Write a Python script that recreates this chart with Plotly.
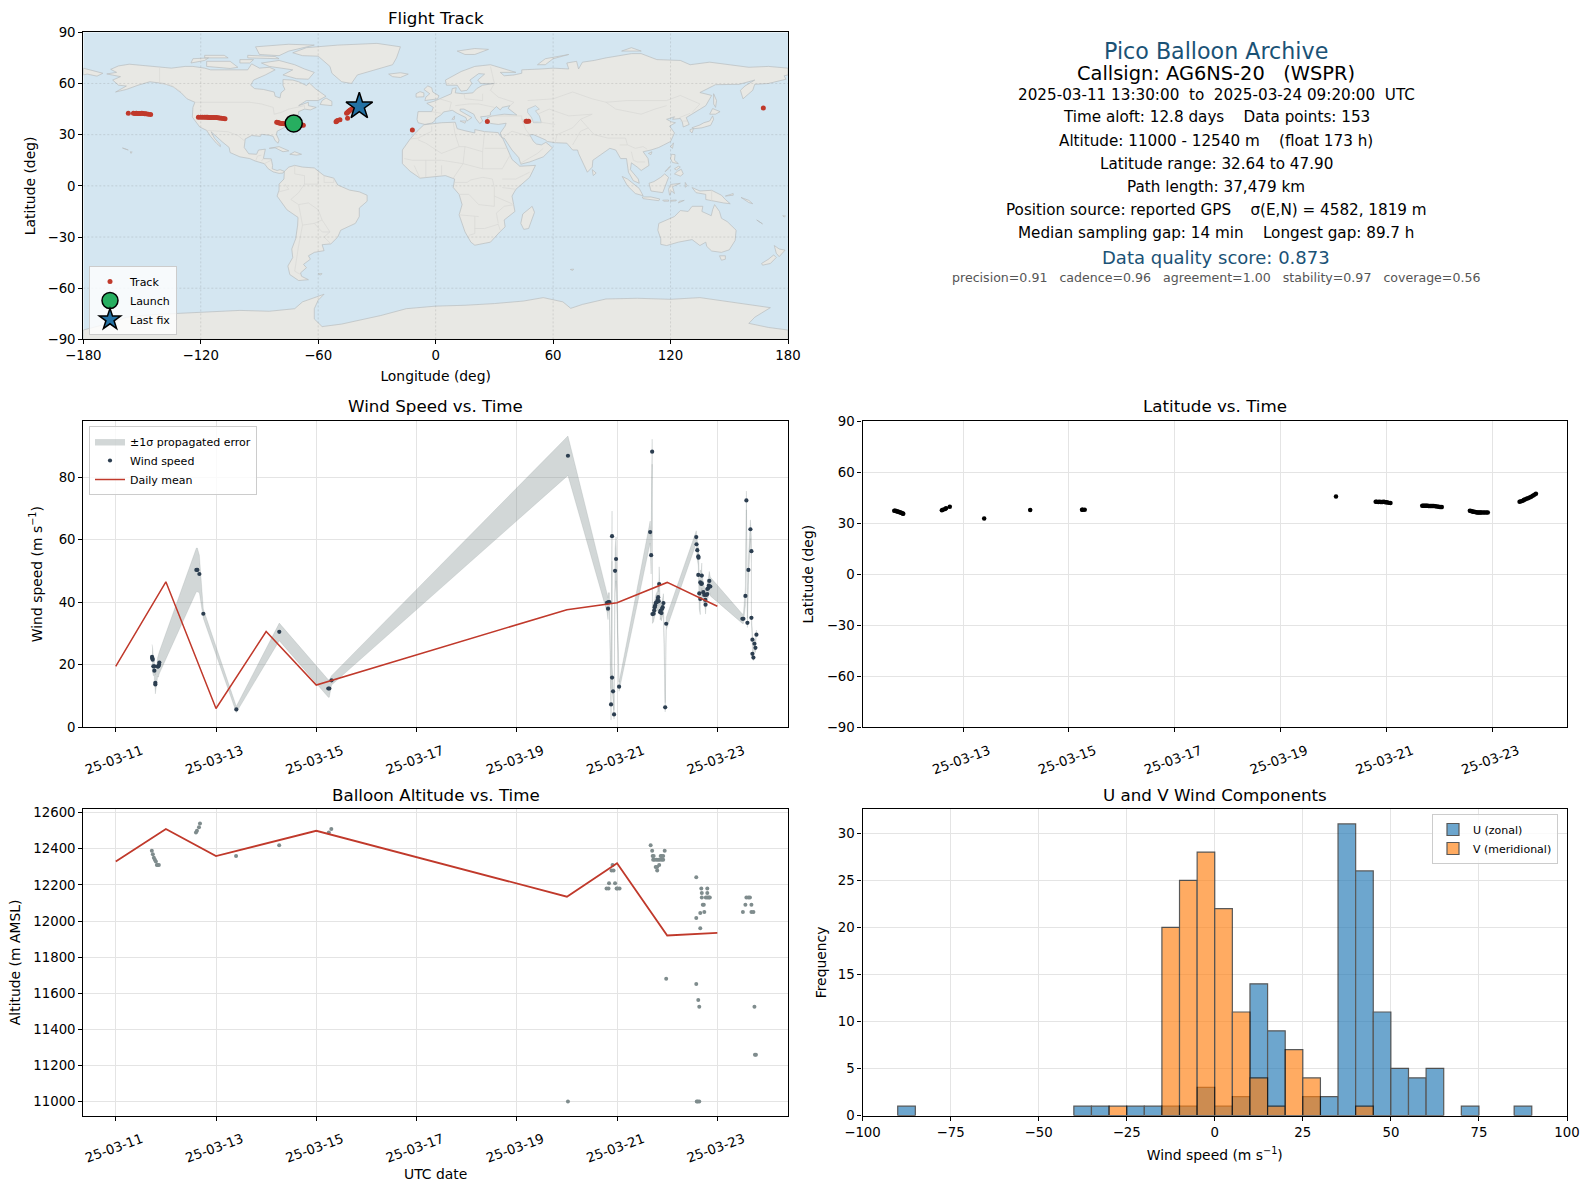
import pandas as pd
import plotly.graph_objects as go

FIG_W, FIG_H = 1590, 1189
FONT = "DejaVu Sans"
RED = "#c0392b"
NAVY = "#2c3e50"
GREY = "#7f8c8d"
BLUE_TXT = "#1a5276"
GRID = "#e4e4e4"
OCEAN = "#d4e6f1"
LAND = "#e8e8e4"
COAST = "#b9bdbf"
BORDER = "#d9d9d5"

start = pd.Timestamp("2025-03-11")

# ---- map outlines (lon, lat)
north_america = [(-168,65.6),(-163,66.5),(-166,68.3),(-162,70.3),(-156.5,71.3),(-150,70.5),(-141,69.7),(-135,69),(-128,70),(-124,70),(-118,69),(-115,68),(-108,68),(-102,68),(-96,68),(-94,71.5),(-90,69),(-85,69.5),(-82,68),(-87,65),(-93,62),(-94.5,59),(-92.5,57),(-88,56.5),(-82.5,55),(-82,52.5),(-79.5,51.5),(-79,54.5),(-77,56.5),(-78,59),(-78,62.3),(-73,62),(-70,61),(-66,58.8),(-64.5,60.3),(-61.5,57),(-56,52.5),(-60,50),(-66,50),(-70,47),(-65,49),(-65,47),(-61,46),(-64,44.5),(-67,45),(-70,43.5),(-70,41.7),(-74,40.6),(-75.5,38),(-76,35),(-78,33.8),(-81,32),(-81.3,30),(-80,26.8),(-80.5,25),(-82,26.5),(-83,29),(-85,29.7),(-89,30.2),(-89.5,29),(-94,29.5),(-97.3,27.5),(-97.8,22.5),(-95.5,18.8),(-91.5,18.5),(-90.5,21),(-87,21.5),(-88,16),(-84,15.8),(-83.3,12),(-83.5,10),(-81,9),(-79.5,9.5),(-77.3,8.5),(-78,7.5),(-80,7.3),(-83,8.2),(-85.5,10),(-87.5,13),(-92,14.5),(-95,16),(-100,17),(-105,19.5),(-105.5,22.5),(-109,25.8),(-112.5,29.5),(-114.7,31.7),(-113,28),(-110,24),(-110,23),(-112,25),(-115,29),(-117,32.5),(-120.5,34.5),(-122.5,37.5),(-124.3,40.3),(-124,46),(-123,49),(-127,51),(-130,54.5),(-134,58),(-139,60),(-146,61),(-152,59),(-158,56.5),(-163.5,55),(-158,58.5),(-162,59),(-165,62),(-161,64)]
baffin = [(-80,73.5),(-72,71),(-67,68.5),(-62,66.5),(-65,62.5),(-71,62.8),(-78,65),(-73,68),(-85,70),(-89,72)]
victoria_isl = [(-117,70),(-105,68.8),(-101,69.5),(-105,73),(-117,73)]
ellesmere = [(-90,77),(-80,76.3),(-75,79),(-62,82.5),(-75,83),(-92,81.5)]
banks_isl = [(-125,72),(-118,73.5),(-116,75),(-124,74.5)]
devon_isl = [(-96,75),(-80,74.5),(-82,75.8),(-96,76.5)]
melville_isl = [(-118,75),(-106,75),(-108,76.5),(-118,76.5)]
pow_isl = [(-100,72),(-95,72),(-93,74),(-100,74)]
newfoundland = [(-59,47.7),(-53,47),(-53,49.5),(-56,51.5),(-58,50)]
greenland = [(-73,78),(-66,81),(-50,82.5),(-30,83.5),(-18,81.5),(-20,75),(-22,71),(-30,68.5),(-40,65),(-43,60),(-48,61),(-53,66),(-54,70),(-60,76),(-68,76.3)]
iceland = [(-24,65.5),(-18,66.3),(-14,65.5),(-18,63.5),(-22,64)]
cuba = [(-85,22),(-80,23),(-75,20.5),(-78,20),(-82,22.3)]
hispaniola = [(-74.5,18.5),(-72,20),(-68.5,18.5),(-71,18)]
hawaii = [(-156,20),(-155,19.8),(-155.7,19)]
kauai = [(-160,22.2),(-158,21.6),(-157,21),(-158,21.2)]
south_america = [(-77.3,8.5),(-75,11),(-72,12),(-68,11),(-62,10.5),(-57,6),(-52,4.5),(-50,0.5),(-44,-2.5),(-39,-3.5),(-35,-5.5),(-35,-9),(-39,-13),(-39,-18),(-41,-22),(-45,-24),(-48.5,-26),(-50,-30),(-53.5,-34),(-58,-34.5),(-57,-38),(-62,-39),(-65,-41),(-64,-43),(-67.5,-46),(-66,-48),(-69,-51),(-68.5,-53),(-65,-55),(-70,-55.5),(-74.5,-52),(-75.5,-47),(-73,-42),(-73.5,-37),(-71.5,-31),(-70.5,-23),(-70.3,-18.5),(-76,-14),(-81,-6),(-80,-2.5),(-80,1),(-77.5,4),(-77.5,7.5)]
falklands = [(-60,-51.5),(-58,-51.5),(-59,-52.3)]
africa = [(-6,35.8),(3,37),(10,37.3),(11,33.5),(15,32.3),(20,31),(20,33),(25,31.8),(32,31.2),(32.5,30),(34.3,27.8),(37,21),(39,15.5),(43,11.5),(51,12),(48,5),(41,-2),(39,-6),(40.5,-15),(35,-20),(35.5,-24),(32.8,-27),(28,-33),(20,-34.8),(18,-33),(15,-27),(12,-17),(13.5,-11),(12,-5),(9,-1),(9.7,4),(5,6),(-4,5),(-8,4.5),(-13,8.5),(-17,13),(-17,21),(-13,27.5),(-9.5,32)]
eurasia = [(-9,37),(-9.5,39),(-9,43.5),(-2,43.5),(-1.2,46),(-4.5,48.4),(-1,49.5),(2,51),(4,52),(8,54),(8.5,57),(10.5,57.5),(10,54.5),(14,54),(19,54.5),(21,57),(24,59),(30,60),(23,60),(21.5,62),(25,65.5),(22,65.8),(17.5,62),(18.5,60),(16,56),(13,55.5),(11,59),(5.5,59),(5,62),(13,67),(20,70),(28,71),(41,66.5),(33,66.5),(35,64.5),(40,65),(44,66),(44,68),(54,68.5),(60,69),(68,68.5),(67,72),(72,73),(73,68.5),(75,72.5),(81,73.5),(87,75),(100,77.5),(105,77.5),(113,74),(125,73.5),(130,71),(140,72.5),(150,71),(160,69.5),(170,70),(180,69),(180,65),(178,64.5),(179,62.5),(170,60),(163,59.5),(162,56),(157,51),(155.7,56),(158,58.5),(163,62),(155,59.5),(143,59.3),(135,54.7),(141,53),(138,47),(132,43),(128,40),(129.5,36),(126.5,34.5),(126,37.5),(125,39.5),(121,39),(122,40.5),(118,39),(120.5,37.5),(122.5,37),(119.5,35),(122,31),(120,26),(114,22.5),(110,21),(106,20),(108.5,16),(109,12),(105,9),(103,11),(100,13.5),(99.5,9.5),(103.5,4),(104,1.5),(101,3),(98.5,8),(97.5,16),(94.5,16),(92,21),(89,22),(86.5,20),(80.3,15),(80,11),(77.5,8),(73,19),(72.5,21),(70,21),(67,25),(61,25.3),(57,26),(56,27),(50,30),(48,30),(50,26),(51.5,24.5),(54,24),(56.3,25.5),(58.5,23.5),(59.7,22.3),(55,17),(48,14),(43.5,12.7),(42.5,16.5),(39,21),(35,28),(34,28),(33,31),(35.5,35),(36,36.7),(32,36),(28,36.6),(26.5,38.5),(26.5,40),(29,41),(35,42),(41.5,41.5),(39,44),(37,45.5),(38,47),(34,46),(33,44.5),(31,46.5),(28,43),(28,41.5),(26,40.8),(23,40.5),(24,38),(22.5,36.5),(20.5,39.5),(19.5,42),(14.5,45),(12.5,45),(12.5,44),(16,41.5),(18.5,40),(16,38),(15.5,40),(11,42.5),(8.5,44.3),(4,43.3),(3,41.8),(0,39.5),(-0.5,38),(-2,36.8),(-5.5,36)]
chukotka_west = [(-180,69),(-175,67.5),(-170,66),(-173,64.3),(-178,65.5),(-180,65)]
britain = [(-5.5,50),(1,51),(1.7,52.8),(-1.5,55),(-2,57.5),(-4,58.6),(-6,56.5),(-3,54),(-5,52)]
ireland = [(-10,52),(-6,52.2),(-6,54.5),(-8,55.2),(-10,54)]
svalbard = [(11,79),(20,80.5),(27,80),(20,77),(15,77)]
novaya_zemlya = [(52,71),(56,74.5),(68,77),(60,74.5),(56,71)]
severnaya = [(95,79),(105,79),(100,81)]
sakhalin = [(142,54),(143.5,50),(143,46),(142,48)]
honshu = [(130.9,34),(135,35.7),(137,37),(140,38),(141.5,41),(142,39),(140.5,35.5),(136,34),(132,33.5)]
kyushu = [(130,33),(131.7,33.5),(131,31),(130,32)]
hokkaido = [(140,42),(141.5,45.3),(145.3,43.5),(143,42)]
taiwan = [(120,23),(121.5,25.2),(121,22)]
hainan = [(108.7,19),(110.5,20),(110,18.3)]
sri_lanka = [(80,9.5),(82,7.5),(80.5,6)]
luzon = [(120,16),(120.5,18.5),(122.3,18.3),(122,15),(124,13),(121,13.7)]
mindanao = [(122,7),(123.5,8.5),(125.5,9.7),(126.5,7),(125,5.7)]
visayas = [(122,10),(124,11.5),(125,11),(123,9.3)]
palawan = [(117.2,8.3),(119.5,11.3),(119.3,10.3)]
borneo = [(109,1.5),(111.5,2.5),(115,5),(117,7),(119,5),(117.8,1),(116,-4),(110,-3)]
sumatra = [(95.3,5.5),(98,4),(104,-1.5),(106,-5.8),(102,-4.5),(98,0)]
java = [(105.5,-6.5),(110,-6.5),(114.5,-7.7),(114,-8.7),(106,-7.5)]
sulawesi = [(119.5,-5.5),(119,-2),(120,0.8),(125,1.5),(121,-0.5),(122,-4.5),(120.5,-3)]
halmahera = [(127.5,2),(128.5,0),(127.5,-0.8)]
new_guinea = [(131,-1),(135,-3),(141,-2.6),(146,-5.5),(148,-8),(150.5,-10.5),(147,-10),(143,-9),(138,-8),(138,-5),(133,-4)]
new_britain = [(148,-6),(152,-4.5),(152,-5.5)]
sunda_a = [(116,-8.4),(119,-8.3),(119,-9),(116.5,-9)]
sunda_b = [(120,-8.5),(123,-8.3),(122.8,-8.8),(120,-9)]
timor = [(124,-10),(127,-8.5),(124.5,-9)]
australia = [(114,-22),(113.5,-26),(115,-31),(115,-34.3),(118,-35),(124,-33),(131,-31.5),(135,-35),(138,-33),(138.5,-35.5),(141,-38.2),(146,-39),(150,-37.5),(153,-32),(153.5,-26),(149,-21),(146,-19),(145,-15),(142.5,-11),(141.5,-14),(140.8,-17.5),(136,-15),(136.5,-12),(131,-12),(129,-15),(125,-14.5),(122,-18),(117,-20.5)]
tasmania = [(145,-41),(148,-41),(148,-43),(146,-43.6)]
nz_north = [(173,-35),(175.5,-37),(178.5,-37.7),(175.5,-41.5),(174,-39.5)]
nz_south = [(172.7,-40.5),(174,-42),(171,-45.5),(167,-46.5),(166.5,-45.5),(170,-43)]
madagascar = [(49.3,-12),(50.5,-15.5),(47.5,-25),(45,-25.5),(43.5,-22),(44.5,-16.5)]
kerguelen = [(68.8,-49),(70.5,-48.8),(70,-49.6)]
new_caledonia = [(164,-20),(167,-22.3),(166,-21.8)]
fiji = [(177.3,-17.5),(178.7,-17.7),(178,-18.3)]
solomons = [(156,-6.8),(160,-8.5),(162,-10.5),(160,-9.8)]
sicily = [(12.5,38),(15.5,38),(15,36.7)]
sardinia = [(8.3,39),(9.7,41),(9.5,39)]
antarctica = [(-180,-90),(-180,-84.5),(-165,-80),(-158,-77),(-145,-75.5),(-120,-74),(-100,-73),(-85,-73.5),(-72,-72),(-68,-68),(-57,-63.5),(-60,-67),(-62,-72),(-62,-78),(-58,-82.5),(-48,-81),(-36,-78),(-28,-76),(-15,-72),(0,-70.5),(15,-70),(30,-69),(45,-67.5),(55,-65.5),(65,-68),(69,-71.8),(75,-69.5),(87,-66.3),(103,-65.9),(120,-66.5),(135,-65.5),(150,-68),(165,-70.5),(171,-71.4),(163,-77),(160,-80.6),(170,-83),(180,-84.5),(180,-90)]
land_polys = [north_america, baffin, victoria_isl, ellesmere, banks_isl, devon_isl, melville_isl, pow_isl, newfoundland, greenland, iceland, cuba, hispaniola, hawaii, kauai, south_america, falklands, africa, eurasia, chukotka_west, britain, ireland, svalbard, novaya_zemlya, severnaya, sakhalin, honshu, kyushu, hokkaido, taiwan, hainan, sri_lanka, luzon, mindanao, visayas, palawan, borneo, sumatra, java, sulawesi, halmahera, new_guinea, new_britain, sunda_a, sunda_b, timor, australia, tasmania, nz_north, nz_south, madagascar, kerguelen, new_caledonia, fiji, solomons, sicily, sardinia, antarctica]

caspian = [(47,45),(51,47),(53,45),(51,44),(53,41),(54,37),(50,37),(49,40),(47,43)]

borders = [
    [(-141,69.7),(-141,60),(-135,59),(-130,55)],
    [(-123,49),(-95,49),(-89,48),(-83,46),(-82.5,42),(-79,43),(-75,45),(-70,46),(-67,47),(-67,45)],
    [(-117,32.5),(-108,31.5),(-106,31.7),(-101,29.5),(-97.3,26)],
    [(-92,14.5),(-91,17.5),(-89,18)], [(-88,16),(-89,14.5)], [(-87.5,13),(-84,15)],
    [(-72,12),(-72,7),(-67,6),(-67,1)],
    [(-60,8),(-60,1),(-67,1),(-70,-4),(-74,-8),(-70,-11),(-65,-10),(-60,-14),(-58,-20),(-55,-25),(-54,-27),(-57,-30),(-53.5,-34)],
    [(-70,-11),(-69,-17),(-68,-23),(-70,-35),(-72,-50),(-69,-52)],
    [(-68,-23),(-62,-22),(-58,-20)], [(-80,-3.5),(-75,-2),(-77,1)], [(-57,6),(-57,2),(-52,2),(-52,4.5)], [(-62,-22),(-58,-27),(-54,-27)],
    [(-2,35),(-2,32),(-9,28),(-13,27.5)], [(-9,27),(-5,25),(3,19),(12,23),(10,30),(9,37)],
    [(12,23),(15,23),(24,20),(25,31.8)], [(25,22),(36,22)], [(24,20),(24,10),(34,10),(36,14),(38,18)],
    [(-16,16),(-12,15),(-5,15),(3,15),(14,13),(15,23)], [(14,13),(24,10)],
    [(12,-5),(17,-5),(22,-11),(30,-12),(30,-1),(29,4),(24,5),(18,3.5),(16,2),(9.7,2)],
    [(3,6.5),(3,12)], [(14,13),(9,4.5)], [(34,-1),(41,-2)], [(34,4),(41,4),(48,8)], [(30,-6),(39,-10.5)],
    [(12,-17),(22,-18)], [(20,-18),(20,-28),(17,-29)], [(20,-25),(25,-25),(32,-22.5),(33,-26)], [(40,-11),(35,-12),(31,-16),(32,-22)],
    [(-5,5),(-5,15)], [(-8,4.5),(-11,12)],
    [(28,70),(30,60),(28,56),(32,52),(40,49),(38,47)],
    [(47,50),(60,51),(70,55),(80,51),(87,49),(98,50),(108,50),(118,50),(125,53),(135,48),(131,43)],
    [(87,49),(92,45),(105,42),(112,45),(118,47)], [(52,42),(58,45),(68,41),(80,42),(74,39)],
    [(74,39),(78,34),(81,30),(88,28),(97,28),(98,24),(102,22),(106,23),(108,21.5)],
    [(61,25),(62,30),(70,34),(74,39)], [(70,24),(74,32),(78,34)],
    [(44,39),(46,33),(48,30)], [(26,41),(44,41),(44,39),(61,36)],
    [(35,29),(39,32),(48,29)], [(43,13),(52,19),(55,22)],
    [(2,51),(8,49),(7,44)], [(-2,43.5),(3,42.5)], [(14.5,54),(15,51),(24,50),(24,54)], [(10,47),(17,48),(22,48),(30,46)],
    [(125,38),(128.5,38)], [(124.5,40),(130,42.5)], [(100,20),(101,15),(103,14),(107,14)], [(94,24),(98,24)], [(141,-2.6),(141,-9)],
]

map_lon_ticks = [-180, -120, -60, 0, 60, 120, 180]
map_lat_ticks = [-90, -60, -30, 0, 30, 60, 90]

# ---- flight track (days after 03-11 00:00)
track_days = [0.70,0.72,0.74,0.76,0.78,0.80,0.82,0.84,0.86,0.87, 1.60,1.62,1.66,1.68,1.75, 2.40, 3.27, 4.25,4.26,4.30, 9.05,
              9.80,9.82,9.85,9.87,9.89,9.91,9.93,9.95,9.97,9.99,10.01,10.04,10.08,
              10.68,10.70,10.72,10.74,10.76,10.78,10.80,10.82,10.84,10.86,10.88,10.90,10.93,10.96,10.99,11.02,11.05,
              11.58,11.60,11.62,11.64,11.66,11.68,11.70,11.72,11.74,11.76,11.78,11.80,11.83,11.86,11.89,11.92,
              12.52,12.55,12.58,12.60,12.62,12.65,12.68,12.71,12.74,12.77,12.80,12.83]
track_lat = [37.3,37.2,37.0,36.8,36.7,36.4,36.2,36.0,35.7,35.5, 37.5,37.9,38.3,38.8,39.6, 32.7, 37.7, 37.8,37.8,37.8, 45.7,
             42.5,42.5,42.4,42.5,42.4,42.4,42.4,42.5,42.4,42.3,42.2,42.0,41.8,
             40.2,40.2,40.2,40.2,40.2,40.2,40.1,40.1,40.1,40.1,40.0,40.0,39.9,39.8,39.6,39.5,39.4,
             37.3,37.1,36.9,36.7,36.6,36.5,36.4,36.3,36.3,36.2,36.2,36.2,36.2,36.2,36.2,36.2,
             42.5,42.9,43.2,43.6,43.9,44.3,44.6,45.0,45.5,46.0,46.6,47.2]
track_lon = [-72.5,-72,-71.5,-71,-70.5,-70,-69.5,-69,-68.3,-67.6, -50.9,-50.6,-50.2,-48.9,-45, -11.9, 26.4, 46.2,46.6,47.5, 167.4,
             -157,-154.4,-153.6,-152.9,-152.2,-151.5,-150.8,-150.1,-149.4,-148.6,-147.9,-146.8,-145.6,
             -121.2,-120,-119,-118,-117.2,-116.5,-115.8,-115,-114.3,-113.5,-112.8,-112,-111.2,-110.4,-109.5,-108.5,-107.6,
             -81.2,-80.5,-80,-79.3,-78.7,-78,-77.3,-76.6,-76,-75.3,-74.5,-74,-73.2,-72.4,-71.2,-70,
             -45.5,-45.2,-44.9,-44.6,-44.2,-43.8,-43.3,-42.8,-42.2,-41.5,-40.6,-39.6]
launch_lon, launch_lat = [-72.5], [36.6]
last_lon, last_lat = [-39.0], [46.6]

# ---- wind speed
wind_days = [0.724,0.73,0.737,0.75,0.77,0.77,0.79,0.79,0.837,0.85,0.864,0.87,1.608,1.628,1.668,1.747,2.405,3.262,4.24,4.26,4.305,
             9.02,9.8,9.82,9.827,9.847,9.88,9.9,9.9,9.92,9.94,9.96,9.98,10.04,
             10.66,10.68,10.7,10.706,10.73,10.74,10.75,10.76,10.77,10.79,10.81,10.82,10.83,10.84,10.86,10.87,10.885,10.9,10.91,10.925,10.96,10.98,
             11.58,11.585,11.6,11.62,11.62,11.625,11.64,11.66,11.66,11.68,11.69,11.69,11.72,11.74,11.76,11.765,11.78,11.8,11.8,11.82,11.83,11.84,11.86,
             12.5,12.52,12.56,12.58,12.6,12.62,12.66,12.68,12.68,12.7,12.7,12.72,12.74,12.76,12.78]
wind_speed = [22.5,22.0,21.6,19.5,19.5,18.1,14.2,13.7,19.4,19.5,20.0,20.7,50.3,50.3,49.0,36.3,5.7,30.5,12.4,12.4,15.0,
              86.8,39.8,37.9,40.0,40.0,7.3,61.1,15.9,11.5,4.1,50.0,53.8,13.0,
              62.4,55.0,88.1,36.2,36.3,37.3,38.4,38.9,39.7,40.0,40.7,41.6,40.3,45.8,36.8,37.3,36.5,37.9,38.4,39.7,6.4,33.1,
              60.8,58.5,56.6,54.6,48.7,54.2,42.8,41.0,46.3,45.8,48.5,46.0,43.2,42.3,40.7,39.2,42.3,42.6,44.2,44.5,45.3,46.8,45.0,
              34.7,34.7,42.0,72.5,33.4,50.3,63.3,56.3,35.0,28.0,23.5,22.3,26.7,25.4,29.6]
wind_sigma = [4.0,4.0,3.5,3.0,3.0,3.0,3.0,3.0,3.0,3.5,3.5,3.5,7.0,7.0,6.0,1.5,1.0,2.8,2.8,2.8,1.5,
              6.3,3.0,3.5,3.0,3.0,5.0,8.0,3.5,3.0,1.5,7.0,7.0,1.5,
              3.5,6.0,4.0,3.0,2.5,2.5,2.5,2.5,2.5,3.0,3.0,5.0,3.0,5.5,2.5,2.5,2.5,2.5,3.0,3.0,1.5,2.0,
              2.0,2.0,3.0,3.0,5.0,3.0,5.0,5.0,4.0,4.0,4.0,4.0,3.0,3.0,3.0,3.0,2.5,2.5,3.0,3.0,3.0,3.0,3.0,
              1.5,1.5,3.0,3.0,1.5,4.0,3.0,4.0,1.5,2.0,1.5,1.0,1.5,1.5,1.5]
mean_days = [0, 1, 2, 3, 4, 9, 10, 11, 12]
wind_mean = [19.5, 46.5, 6.0, 30.6, 13.5, 37.6, 39.8, 46.3, 38.7]
wind_ticks = [0, 20, 40, 60, 80]

# ---- altitude
alt_days = [0.72,0.74,0.76,0.78,0.80,0.82,0.84,0.86, 1.60,1.62,1.66,1.68, 2.40, 3.26, 4.25,4.30, 9.02,
            9.79,9.83,9.84,9.89,9.93,9.91,9.96,9.99,10.01,10.05,
            10.67,10.70,10.71,10.73,10.72,10.75,10.79,10.82,10.85,10.89,10.92,10.87,10.89,10.92,10.95,10.77,10.80,10.84,10.80,10.98,
            11.58,11.58,11.58,11.62,11.64,11.59,11.61,11.64,11.68,11.80,11.69,11.80,11.69,11.77,11.80,11.83,11.85,11.71,11.73,11.66,11.74,11.66,
            12.58,12.62,12.65,12.56,12.68,12.51,12.68,12.72,12.74,12.77,12.75]
alt_m = [12390,12370,12350,12340,12330,12310,12310,12310, 12490,12500,12520,12540, 12360, 12420, 12490,12510, 11000,
         12180,12180,12210,12280,12280,12310,12210,12180,12180,12180,
         12420,12390,12360,12360,12340,12340,12340,12340,12340,12340,12340,12360,12360,12360,12390,12300,12300,12310,12280,11680,
         12243,12017,11652,11563,11525,11000,11000,11000,12180,12180,12155,12155,12130,12130,12130,12130,12130,12090,12090,12045,12050,11960,
         12130,12130,12130,12090,12090,12050,12050,12050,11525,11260,11260]
alt_mean = [12330, 12510, 12360, 12430, 12500, 12135, 12320, 11920, 11935]
alt_ticks = [11000, 11200, 11400, 11600, 11800, 12000, 12200, 12400, 12600]

# ---- wind components histogram (5 m/s bins, left edges)
bin_lefts = [-90,-40,-35,-30,-25,-20,-15,-10,-5,0,5,10,15,20,25,30,35,40,45,50,55,60,70,85]
u_counts = [1,1,1,0,1,1,1,1,3,1,2,14,9,0,2,2,31,26,11,5,4,5,1,1]
v_counts = [0,0,0,1,0,0,20,25,28,22,11,4,1,7,4,0,0,1,0,0,0,0,0,0]
hist_x_ticks = [-100,-75,-50,-25,0,25,50,75,100]
hist_y_ticks = [0,5,10,15,20,25,30]

# ---- info panel text
info_lines = [
    ("Pico Balloon Archive", 51, 22.2, BLUE_TXT),
    ("Callsign: AG6NS-20   (WSPR)", 73.5, 19.4, "black"),
    ("2025-03-11 13:30:00  to  2025-03-24 09:20:00  UTC", 95, 15.2, "black"),
    ("Time aloft: 12.8 days    Data points: 153", 117.5, 15.2, "black"),
    ("Altitude: 11000 - 12540 m    (float 173 h)", 141, 15.2, "black"),
    ("Latitude range: 32.64 to 47.90", 164, 15.2, "black"),
    ("Path length: 37,479 km", 187, 15.2, "black"),
    ("Position source: reported GPS    σ(E,N) = 4582, 1819 m", 210, 15.2, "black"),
    ("Median sampling gap: 14 min    Longest gap: 89.7 h", 233, 15.2, "black"),
    ("Data quality score: 0.873", 257, 18, BLUE_TXT),
    ("precision=0.91   cadence=0.96   agreement=1.00   stability=0.97   coverage=0.56", 278, 12.6, "#555555"),
]


def to_dates(days):
    return [start + pd.Timedelta(days=d) for d in days]


def closed(polys):
    xs, ys = [], []
    for poly in polys:
        xs += [p[0] for p in poly] + [poly[0][0], None]
        ys += [p[1] for p in poly] + [poly[0][1], None]
    return xs, ys


def opened(lines):
    xs, ys = [], []
    for line in lines:
        xs += [p[0] for p in line] + [None]
        ys += [p[1] for p in line] + [None]
    return xs, ys


def dom_x(a, b):
    return [a / FIG_W, b / FIG_W]


def dom_y(top, bottom):
    return [1 - bottom / FIG_H, 1 - top / FIG_H]


fig = go.Figure()

# map
fig.add_trace(go.Scatter(x=[-180, 180, 180, -180, -180], y=[-90, -90, 90, 90, -90], mode="lines", fill="toself",
                         fillcolor=OCEAN, line=dict(width=0), showlegend=False, hoverinfo="skip"))
land_x, land_y = closed(land_polys)
fig.add_trace(go.Scatter(x=land_x, y=land_y, mode="lines", fill="toself", fillcolor=LAND,
                         line=dict(color=COAST, width=0.7), showlegend=False, hoverinfo="skip"))
lake_x, lake_y = closed([caspian])
fig.add_trace(go.Scatter(x=lake_x, y=lake_y, mode="lines", fill="toself", fillcolor=OCEAN,
                         line=dict(color=COAST, width=0.6), showlegend=False, hoverinfo="skip"))
border_x, border_y = opened(borders)
fig.add_trace(go.Scatter(x=border_x, y=border_y, mode="lines", line=dict(color=BORDER, width=0.7),
                         showlegend=False, hoverinfo="skip"))
grid_lines = [[(v, -90), (v, 90)] for v in map_lon_ticks[1:-1]] + [[(-180, v), (180, v)] for v in map_lat_ticks[1:-1]]
grid_x, grid_y = opened(grid_lines)
fig.add_trace(go.Scatter(x=grid_x, y=grid_y, mode="lines", line=dict(color="rgba(110,110,110,0.28)", width=0.7, dash="2px,2px"),
                         showlegend=False, hoverinfo="skip"))
fig.add_trace(go.Scatter(x=track_lon, y=track_lat, mode="markers", name="Track", legend="legend",
                         marker=dict(color=RED, size=5)))
fig.add_trace(go.Scatter(x=launch_lon, y=launch_lat, mode="markers", name="Launch", legend="legend",
                         marker=dict(color="#27ae60", size=17, line=dict(color="black", width=1.5))))
fig.add_trace(go.Scatter(x=last_lon, y=last_lat, mode="markers", name="Last fix", legend="legend",
                         marker=dict(color="#2471a3", size=20, symbol="star", line=dict(color="black", width=1.5))))

# wind speed
wind_t = to_dates(wind_days)
upper = [s + e for s, e in zip(wind_speed, wind_sigma)]
lower = [s - e for s, e in zip(wind_speed, wind_sigma)]
fig.add_trace(go.Scatter(x=wind_t + wind_t[::-1], y=upper + lower[::-1], mode="lines", fill="toself",
                         fillcolor="rgba(127,140,141,0.35)", line=dict(color="rgba(127,140,141,0.35)", width=0.5),
                         name="±1σ propagated error", xaxis="x2", yaxis="y2", legend="legend2"))
fig.add_trace(go.Scatter(x=wind_t, y=wind_speed, mode="markers", name="Wind speed", xaxis="x2", yaxis="y2",
                         legend="legend2", marker=dict(color=NAVY, size=4.2)))
fig.add_trace(go.Scatter(x=to_dates(mean_days), y=wind_mean, mode="lines", name="Daily mean", xaxis="x2", yaxis="y2",
                         legend="legend2", line=dict(color=RED, width=1.5)))

# latitude
fig.add_trace(go.Scatter(x=to_dates(track_days), y=track_lat, mode="markers", xaxis="x3", yaxis="y3", showlegend=False,
                         marker=dict(color="black", size=4.5)))

# altitude
fig.add_trace(go.Scatter(x=to_dates(alt_days), y=alt_m, mode="markers", xaxis="x4", yaxis="y4", showlegend=False,
                         marker=dict(color=GREY, size=4)))
fig.add_trace(go.Scatter(x=to_dates(mean_days), y=alt_mean, mode="lines", xaxis="x4", yaxis="y4", showlegend=False,
                         line=dict(color=RED, width=1.8)))

# histogram
centers = [b + 2.5 for b in bin_lefts]
fig.add_trace(go.Bar(x=centers, y=u_counts, width=5, name="U (zonal)", xaxis="x5", yaxis="y5", legend="legend3",
                     opacity=0.65, marker=dict(color="#1f77b4", line=dict(color="black", width=1.2))))
fig.add_trace(go.Bar(x=centers, y=v_counts, width=5, name="V (meridional)", xaxis="x5", yaxis="y5", legend="legend3",
                     opacity=0.65, marker=dict(color="#ff7f0e", line=dict(color="black", width=1.2))))

tick_font = dict(family=FONT, size=13.3, color="black")
title_font = dict(family=FONT, size=13.9, color="black")
axis_style = dict(showline=True, mirror=True, linecolor="black", linewidth=1.1, ticks="outside", ticklen=4,
                  tickwidth=1, tickcolor="black", tickfont=tick_font, zeroline=False, gridcolor=GRID, gridwidth=1,
                  automargin=False)
date_style = dict(type="date", tick0="2025-03-11", dtick=172800000, tickformat="%y-%m-%d", tickangle=-20,
                  ticklabelshift=26, ticklabelstandoff=6)


def axis_title(text, standoff):
    return dict(text=text, font=title_font, standoff=standoff)


fig.update_layout(
    width=FIG_W, height=FIG_H, margin=dict(l=0, r=0, t=0, b=0, autoexpand=False), autosize=False,
    paper_bgcolor="white", plot_bgcolor="white", barmode="overlay", font=dict(family=FONT, color="black"),
    xaxis=dict(domain=dom_x(83.3, 788), range=[-180, 180], tickvals=map_lon_ticks, showgrid=False,
               title=axis_title("Longitude (deg)", 8), anchor="y", **axis_style),
    yaxis=dict(domain=dom_y(32.3, 339.4), range=[-90, 90], tickvals=map_lat_ticks, showgrid=False,
               title=axis_title("Latitude (deg)", 8), anchor="x", **axis_style),
    xaxis2=dict(domain=dom_x(83.3, 788), range=["2025-03-10 08:28", "2025-03-24 09:50"], anchor="y2",
                **date_style, **axis_style),
    yaxis2=dict(domain=dom_y(421, 727.3), range=[0, 97.9], tickvals=wind_ticks, anchor="x2",
                title=axis_title("Wind speed (m s<sup>−1</sup>)", 12), **axis_style),
    xaxis3=dict(domain=dom_x(862.5, 1567), range=["2025-03-11 02:24", "2025-03-24 10:00"], anchor="y3",
                **date_style, **axis_style),
    yaxis3=dict(domain=dom_y(421, 727.3), range=[-90, 90], tickvals=map_lat_ticks, anchor="x3",
                title=axis_title("Latitude (deg)", 9), **axis_style),
    xaxis4=dict(domain=dom_x(83.3, 788), range=["2025-03-10 08:28", "2025-03-24 09:50"], anchor="y4",
                title=axis_title("UTC date", 3), **date_style, **axis_style),
    yaxis4=dict(domain=dom_y(809.3, 1115.5), range=[10923, 12619], tickvals=alt_ticks, tickformat="d", anchor="x4",
                title=axis_title("Altitude (m AMSL)", 9), **axis_style),
    xaxis5=dict(domain=dom_x(862.5, 1567), range=[-100, 100], tickvals=hist_x_ticks, anchor="y5",
                title=axis_title("Wind speed (m s<sup>−1</sup>)", 11), **axis_style),
    yaxis5=dict(domain=dom_y(809.3, 1115.5), range=[0, 32.55], tickvals=hist_y_ticks, anchor="x5",
                title=axis_title("Frequency", 7), **axis_style),
    legend=dict(x=89 / FIG_W, y=1 - 335 / FIG_H, xanchor="left", yanchor="bottom", bgcolor="rgba(255,255,255,0.8)",
                bordercolor="#cccccc", borderwidth=1, font=dict(family=FONT, size=11), tracegroupgap=0),
    legend2=dict(x=89 / FIG_W, y=1 - 426 / FIG_H, xanchor="left", yanchor="top", bgcolor="rgba(255,255,255,0.8)",
                 bordercolor="#cccccc", borderwidth=1, font=dict(family=FONT, size=11), tracegroupgap=0),
    legend3=dict(x=1558 / FIG_W, y=1 - 814 / FIG_H, xanchor="right", yanchor="top", bgcolor="rgba(255,255,255,0.8)",
                 bordercolor="#cccccc", borderwidth=1, font=dict(family=FONT, size=11), tracegroupgap=0),
)

annotations = []
subplot_titles = [("Flight Track", 435.6, 18), ("Wind Speed vs. Time", 435.6, 406), ("Latitude vs. Time", 1214.7, 406),
                  ("Balloon Altitude vs. Time", 435.6, 795), ("U and V Wind Components", 1214.7, 795)]
for text, px, py in subplot_titles:
    annotations.append(dict(text=text, x=px / FIG_W, y=1 - py / FIG_H, xref="paper", yref="paper", showarrow=False,
                            xanchor="center", yanchor="middle", font=dict(family=FONT, size=16.7, color="black")))
for text, py, size, color in info_lines:
    annotations.append(dict(text=text, x=1216 / FIG_W, y=1 - py / FIG_H, xref="paper", yref="paper", showarrow=False,
                            xanchor="center", yanchor="middle", font=dict(family=FONT, size=size, color=color)))
fig.update_layout(annotations=annotations)

fig.write_html("out.html", config={"displayModeBar": False}, post_script="document.body.style.margin='0';")
